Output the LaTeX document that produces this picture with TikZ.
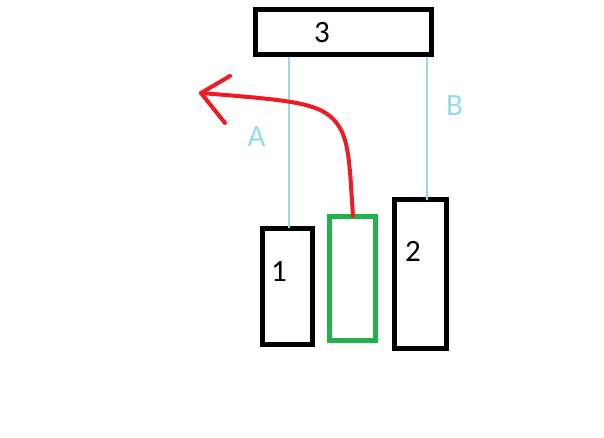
\documentclass[tikz,border=0pt]{standalone}
\usepackage{fontspec}
\setmainfont{Carlito}
\definecolor{lblue}{RGB}{153,217,234}
\definecolor{pred}{RGB}{237,28,36}
\definecolor{pgreen}{RGB}{34,177,76}
\begin{document}
\begin{tikzpicture}[x=1pt,y=-1pt,
  box/.style={draw=black,line width=5pt,inner sep=0pt},
  gbox/.style={draw=pgreen,line width=5pt,inner sep=0pt},
  lbl/.style={font=\fontsize{31}{31}\selectfont,inner sep=0pt},
  link/.style={draw=lblue,line width=2pt}]
\useasboundingbox (0,0) rectangle (604,437);
\node[box,minimum width=176pt,minimum height=45pt] (b3) at (343,31.5) {};
\node[box,minimum width=50pt,minimum height=116pt] (b1) at (287,286) {};
\node[gbox,minimum width=46pt,minimum height=124pt] (g) at (352.5,278.5) {};
\node[box,minimum width=52pt,minimum height=148.5pt] (b2) at (420.5,273.75) {};
\node[lbl] (t3) at (322,33) {3};
\node[lbl] (t1) at (279,272) {1};
\node[lbl] (t2) at (413,251) {2};
\node[lbl,text=lblue] (tA) at (256.5,137) {A};
\node[lbl,text=lblue] (tB) at (454.5,105.5) {B};
\coordinate (l1) at (289,228);
\coordinate (l2) at (427,199.5);
\draw[link] (l1) -- (l1 |- b3.south);
\draw[link] (l2) -- (l2 |- b3.south);
\coordinate (tip) at (201,93);
\coordinate (w1) at (230,76);
\coordinate (w2) at (225,123);
\draw[pred,line width=4pt,line cap=round] (353,216) .. controls (350,175) and (350,145) .. (340,128) .. controls (325,103) and (300,101) .. (tip);
\draw[pred,line width=4pt,line cap=round,line join=round] (w1) -- (tip) -- (w2);
\end{tikzpicture}
\end{document}
